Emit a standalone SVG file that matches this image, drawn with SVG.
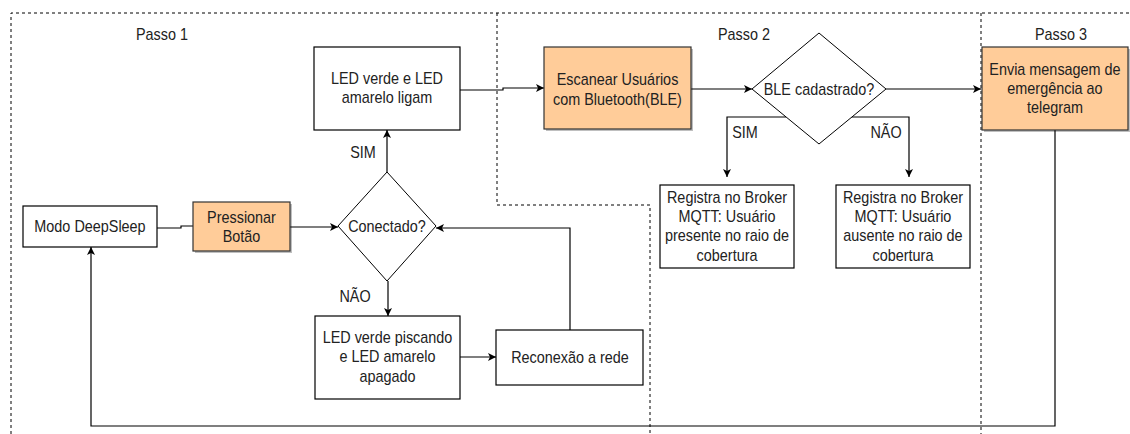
<svg xmlns="http://www.w3.org/2000/svg" width="1130" height="434" viewBox="0 0 1130 434">
<style>
text{font-family:"Liberation Sans",Arial,sans-serif;font-size:16px;fill:#222;text-anchor:middle;transform-box:fill-box;transform-origin:center;transform:scaleX(0.9)}
.box{fill:#fff;stroke:#000;stroke-width:1.2}
.org{fill:#ffcc99;stroke:#333;stroke-width:1.2}
.sh{fill:#000;opacity:0.25}
.dia{fill:#fff;stroke:#000;stroke-width:1}
.ln{fill:none;stroke:#000;stroke-width:1.2}
.frame{fill:none;stroke:#000;stroke-width:1;stroke-dasharray:3 3}
</style>
<defs>
<marker id="ah" viewBox="0 0 10 10" refX="10" refY="5" markerWidth="8" markerHeight="8" markerUnits="userSpaceOnUse" orient="auto">
<path d="M0,0 L10,5 L0,10 L2.5,5 Z" fill="#000"/>
</marker>
</defs>
<rect width="1130" height="434" fill="#fff"/>
<g id="frames">
<path class="frame" d="M11,434 V13 H1130"/>
<path class="frame" d="M497,13 V205 H650 V434"/>
<path class="frame" d="M981,13 V434"/>
<text x="162" y="40">Passo 1</text>
<text x="744" y="40">Passo 2</text>
<text x="1061" y="40">Passo 3</text>
</g>
<g id="connectors">
<path class="ln" d="M157,228 H181 V226 H193"/>
<path class="ln" d="M290,227 H338" marker-end="url(#ah)"/>
<path class="ln" d="M387,172 V130" marker-end="url(#ah)"/>
<path class="ln" d="M388,281 V316" marker-end="url(#ah)"/>
<path class="ln" d="M460,357 H496" marker-end="url(#ah)"/>
<path class="ln" d="M570,330 V228 H436" marker-end="url(#ah)"/>
<path class="ln" d="M460,90 H503 V88 H544" marker-end="url(#ah)"/>
<path class="ln" d="M691,89 H752" marker-end="url(#ah)"/>
<path class="ln" d="M886,89 H981" marker-end="url(#ah)"/>
<path class="ln" d="M786,117 H727 V177" marker-end="url(#ah)"/>
<path class="ln" d="M851,117 H909 V177" marker-end="url(#ah)"/>
<path class="ln" d="M1055,130 V426 H91 V247" marker-end="url(#ah)"/>
<text x="363" y="158">SIM</text>
<text x="355" y="302">NÃO</text>
<text x="745" y="138">SIM</text>
<text x="886" y="138">NÃO</text>
</g>
<g id="deepsleep">
<rect class="box" x="23" y="206" width="134" height="41"/>
<text x="90" y="232">Modo DeepSleep</text>
</g>
<g id="pressionar">
<rect class="sh" x="195" y="204" width="97" height="49"/>
<rect class="org" x="193" y="202" width="97" height="49"/>
<text x="241.5" y="223">Pressionar</text>
<text x="241.5" y="242">Botão</text>
</g>
<g id="conectado">
<path class="dia" d="M387,172 L436,226 L387,281 L338,226 Z"/>
<text x="387" y="232">Conectado?</text>
</g>
<g id="ledligam">
<rect class="box" x="314" y="47" width="146" height="83"/>
<text x="387" y="84">LED verde e LED</text>
<text x="387" y="103">amarelo ligam</text>
</g>
<g id="ledpiscando">
<rect class="box" x="315" y="316" width="145" height="83"/>
<text x="387.5" y="343">LED verde piscando</text>
<text x="387.5" y="362.5">e LED amarelo</text>
<text x="387.5" y="382">apagado</text>
</g>
<g id="reconexao">
<rect class="box" x="496" y="330" width="147" height="55"/>
<text x="570" y="363">Reconexão a rede</text>
</g>
<g id="escanear">
<rect class="sh" x="546" y="49" width="147" height="82"/>
<rect class="org" x="544" y="47" width="147" height="82"/>
<text x="617.5" y="85">Escanear Usuários</text>
<text x="617.5" y="105">com Bluetooth(BLE)</text>
</g>
<g id="blecadastrado">
<path class="dia" d="M819,33 L886,89 L819,144 L752,89 Z"/>
<text x="819" y="95">BLE cadastrado?</text>
</g>
<g id="presente">
<rect class="box" x="660" y="185" width="134" height="83"/>
<text x="727" y="203">Registra no Broker</text>
<text x="727" y="222">MQTT: Usuário</text>
<text x="727" y="241.5">presente no raio de</text>
<text x="727" y="261">cobertura</text>
</g>
<g id="ausente">
<rect class="box" x="836" y="185" width="134" height="83"/>
<text x="903" y="203">Registra no Broker</text>
<text x="903" y="222">MQTT: Usuário</text>
<text x="903" y="241.5">ausente no raio de</text>
<text x="903" y="261">cobertura</text>
</g>
<g id="telegram">
<rect class="sh" x="984" y="49" width="146" height="83"/>
<rect class="org" x="982" y="47" width="146" height="83"/>
<text x="1055" y="75">Envia mensagem de</text>
<text x="1055" y="94.5">emergência ao</text>
<text x="1055" y="113.5">telegram</text>
</g>
</svg>
